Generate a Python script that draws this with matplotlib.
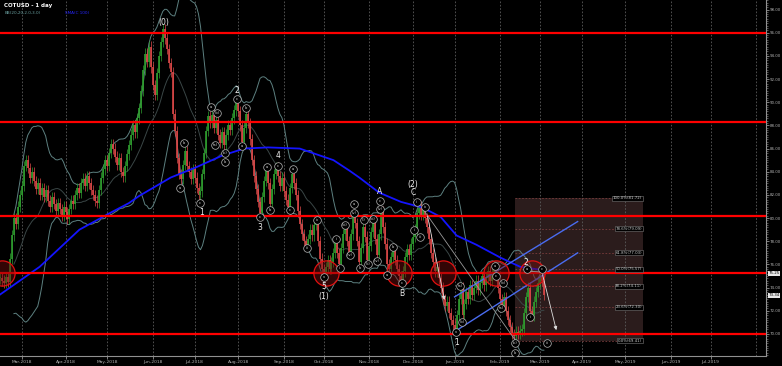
import matplotlib
matplotlib.use('Agg')
import matplotlib.pyplot as plt
import matplotlib.transforms as mtransforms
from matplotlib.patches import Rectangle
from matplotlib.ticker import MultipleLocator
import numpy as np
import pandas as pd

# COTUSD daily closes (first bar = 14 Feb 2018)
start_date = '2018-02-14'
closes = [
    74.8, 74.6, 74.4, 74.9, 74.5, 76.5, 78.5, 80.0, 79.5, 81.0, 82.0, 82.8, 84.5, 85.0, 84.3, 83.5, 84.0,
    83.2, 82.5, 83.0, 82.0, 82.6, 81.8, 82.4, 81.5, 81.0, 81.8, 81.2, 80.6, 81.3, 80.8,
    80.2, 81.0, 80.5, 79.9, 80.8,
    81.5, 81.2, 82.0, 82.6, 82.2, 83.0, 83.4, 82.8, 83.6, 83.0, 82.4, 82.0, 81.5,
    81.3, 82.4, 83.5, 84.2, 85.0, 84.5, 85.6, 86.4, 86.0, 85.3, 84.6, 85.2, 84.0, 83.6, 84.5, 85.5, 86.3, 87.2, 88.0, 87.4, 88.6,
    89.5, 91.0, 92.8, 94.2, 93.5, 94.8, 93.0, 91.5, 90.6, 92.5, 94.0, 95.2, 96.3, 95.5, 94.6, 93.4, 92.6, 89.0, 87.5, 85.2,
    83.8, 83.4, 84.6, 85.8, 84.5, 84.0, 83.4, 84.2, 83.5, 82.6, 82.0, 82.3, 83.8, 85.6, 87.5, 88.8, 88.2, 88.9, 87.8, 88.5,
    87.2, 86.5, 87.4, 86.3, 87.2, 88.0, 87.6, 88.6, 89.3, 90.0, 89.2, 88.0, 86.6, 87.8, 89.0, 88.2, 86.8, 85.0, 83.6, 82.5,
    81.4, 80.4, 81.8, 83.2, 84.2, 83.0, 81.2, 82.5, 83.8, 84.4, 83.6, 82.8, 83.5, 82.3, 81.6, 81.0, 82.6, 83.8, 83.0, 82.0,
    80.6, 79.5, 78.6, 78.0, 77.6, 78.2, 79.0, 78.5, 79.4, 79.6, 78.0, 76.5, 75.6, 75.2, 75.8, 76.4, 75.6, 76.2, 77.0, 78.0,
    77.0, 76.0, 77.4, 78.6, 79.2, 78.0, 77.0, 78.6, 80.2, 79.6, 78.0, 76.2, 77.4, 79.2, 78.4, 76.4, 77.6, 78.8, 79.6, 78.2,
    76.8, 78.6, 80.6, 79.2, 77.8, 76.0, 75.6, 76.6, 77.3, 76.4, 75.6, 75.0, 74.6, 75.4, 76.6, 77.3, 76.8, 77.8, 78.4, 79.0,
    80.4, 81.0, 80.3, 80.8, 80.0, 79.2, 78.2, 77.0, 76.2, 75.4, 75.8, 74.8, 74.0, 73.0, 72.4, 72.8, 71.8, 71.2, 70.8, 70.4,
    71.6, 73.0, 74.0, 71.6, 72.6, 73.6, 73.0, 74.2, 73.4, 74.0, 74.6, 73.8, 74.4, 75.0, 74.2, 74.8, 75.4, 74.6, 75.3, 75.8,
    75.0, 74.0, 73.0, 72.4, 73.2, 72.0, 71.2, 70.6, 70.0, 69.8, 70.2, 70.0, 70.3, 70.4, 71.8, 73.2, 74.0, 72.0, 71.6, 72.8,
    73.6, 74.4, 75.0, 74.6, 73.34,
]

# SMA(100) read at a few bars
sma_idx = [0, 20, 40, 55, 65, 70, 86, 99, 112, 123, 135, 151, 168, 176, 181, 191, 202, 213, 222, 230, 240, 252, 262, 274]
sma_val = [73.4, 75.8, 79.0, 80.4, 81.3, 81.9, 83.5, 84.4, 85.4, 86.0, 86.1, 86.0, 85.0, 84.1, 83.5, 82.2, 81.4, 80.9,
           80.1, 78.5, 77.7, 76.6, 75.8, 75.5]

# horizontal levels
sr_levels = [96.0, 88.3, 80.2, 75.25, 70.0]

# red circles on the 75.25 level
circle_idx = [1, 164, 201, 223, 250, 268]
circle_price = [75.25, 75.25, 75.25, 75.25, 75.25, 75.25]

# fibonacci retracement
fib_pct = [100.0, 78.6, 61.8, 50.0, 38.2, 23.6, 0.0]
fib_price = [81.72, 79.09, 77.03, 75.57, 74.11, 72.30, 69.41]
fib_from, fib_to = 259.4, 323.9

# rising channel
chan_idx = [229, 291]
chan_upper = [73.2, 79.7]
chan_lower = [70.2, 77.0]

# wave labels
big_text = ['(0)', '2', '1', '3', '4', '5', '(1)', 'A', 'B', '(2)', 'C', '1', '2']
big_idx = [82.6, 119.4, 101.3, 131, 140, 163.2, 163.2, 191.4, 202.5, 208, 208, 230.2, 265]
big_price = [96.9, 91.05, 80.5, 79.2, 85.4, 74.1, 73.2, 82.3, 73.5, 82.9, 82.2, 69.3, 76.2]

small_text = ['a', '(b)', 'c', 'b', '(a)', '(c)', 'b', 'a', 'b', 'a', 'c',
              'c', 'a', 'b', 'c', 'c', 'a', 'iii', 'iv', 'v',
              'i', 'ii', '(iii)', '(iv)', '(v)', 'a', 'b', '(i)', '(ii)', '(iii)', '(iv)', '(v)', 'c',
              'b', 'a', 'c', 'ii', 'iv', 'i', 'iii',
              'v', '(a)', '(b)', 'a', 'c', '(b)', '(a)', '(c)', 'b', 'i', 'iii', 'a', 'c']
small_idx = [106.3, 109.3, 119.4, 123.9, 108.3, 113.4, 113.4, 121.9, 92.7, 90.7, 100.8,
             131, 134.5, 136, 140, 146, 147.6, 154.7, 159.7, 163.2,
             169.3, 171.3, 173.8, 176.3, 178.3, 178.3, 181.4, 183.4, 185.4, 187.9, 189.9, 191.4, 191.4,
             198, 195, 202.5, 210, 214.1, 208.6, 211.6,
             229.7, 231.7, 232.7, 249.4, 249.9, 253.4, 252.4, 259.4, 259.4, 267, 275.6, 265.5, 273]
small_price = [89.6, 89.1, 90.3, 89.5, 86.3, 85.6, 84.8, 86.2, 86.5, 82.6, 81.3,
               80.1, 84.4, 80.7, 84.5, 80.7, 84.2, 77.4, 79.8, 74.9,
               78.2, 75.7, 79.4, 76.8, 80.4, 81.2, 75.7, 79.8, 76.0, 79.9, 76.3, 80.8, 81.5,
               77.5, 75.1, 74.4, 81.4, 81.0, 79.0, 78.4,
               70.2, 74.1, 71.0, 75.9, 75.0, 74.4, 72.2, 69.2, 68.4, 71.5, 69.2, 75.6, 75.6]

# wave connector lines / projections
line_idx = [(212.6, 259.4), (267, 273)]
line_price = [(80.9, 69.5), (75.4, 75.35)]
arrow_idx = [(215.1, 224.2), (273, 280.6)]
arrow_price = [(80.4, 72.7), (75.35, 70.1)]

# ---------------------------------------------------------------
W_PX, H_PX = 782, 366
fig = plt.figure(figsize=(W_PX / 100, H_PX / 100), dpi=100, facecolor='black')
ax = fig.add_axes([0, 10 / H_PX, 766 / W_PX, 356 / H_PX])
ax.set_facecolor('black')

n_axis = 386
dates = pd.bdate_range(start_date, periods=n_axis + 30)
ax.set_xlim(0, 766 / 1.985)
ax.set_ylim(68.10, 98.82)

# month grid
month_pos, month_lab = [], []
for i in range(1, len(dates)):
    if dates[i].month != dates[i - 1].month and i < 386:
        month_pos.append(i)
        month_lab.append(dates[i].strftime('%b-%Y'))
for p in month_pos:
    ax.axvline(p, color='#5c5c5c', lw=0.6, ls=(0, (2, 2)), zorder=1)
ax.set_xticks(month_pos[:-1])
ax.set_xticklabels(month_lab[:-1])

# fib box
ax.add_patch(Rectangle((fib_from, fib_price[-1]), fib_to - fib_from, fib_price[0] - fib_price[-1],
                       facecolor='#2b1c1c', edgecolor='none', zorder=0.5))
ax.hlines(fib_price, fib_from, fib_to, colors='#7a3c3c', linestyles=(0, (2, 2)), lw=0.6, zorder=1.5)
for pct, val in zip(fib_pct, fib_price):
    ax.text(fib_to - 0.5, val, f'{pct:.1f}%({val:.2f})', ha='right', va='center', fontsize=2.8,
            color='#cfcfcf', zorder=6,
            bbox=dict(boxstyle='square,pad=0.15', fc='black', ec='#777777', lw=0.4))

# bollinger bands
s = pd.Series(closes)
mid = s.rolling(20, min_periods=8).mean()
sd = s.rolling(20, min_periods=8).std()
x_all = np.arange(len(closes))
ax.plot(x_all, mid + 2 * sd, color='#5d8080', lw=0.7, zorder=2)
ax.plot(x_all, mid - 2 * sd, color='#5d8080', lw=0.7, zorder=2)
ax.plot(x_all, mid, color='#3a4646', lw=0.7, zorder=2)

# candles
opens = [closes[0]] + closes[:-1]
wick = 0.45
for i, (o, c) in enumerate(zip(opens, closes)):
    col = '#2f9e2f' if c >= o else '#dc4848'
    ax.vlines(i, min(o, c) - wick, max(o, c) + wick, color=col, lw=0.5, zorder=3)
    ax.vlines(i, min(o, c), max(o, c) + (0.08 if o == c else 0), color=col, lw=1.2, zorder=3)

# SMA 100
ax.plot(sma_idx, sma_val, color='#1414ff', lw=1.3, zorder=4)

# channel
ax.plot(chan_idx, chan_upper, color='#4a6cf0', lw=1.0, zorder=4)
ax.plot(chan_idx, chan_lower, color='#4a6cf0', lw=1.0, zorder=4)

# horizontal levels
for lv in sr_levels:
    ax.axhline(lv, color='#ff0000', lw=1.6, zorder=4.5)

# red circles
ax.scatter(circle_idx, circle_price, s=330, facecolor=(0.45, 0.05, 0.05, 0.45),
           edgecolor='#e01010', lw=0.9, zorder=4.6)

# connectors
for (x0, x1), (y0, y1) in zip(line_idx, line_price):
    ax.plot([x0, x1], [y0, y1], color='#9a9a9a', lw=0.6, zorder=5)
for (x0, x1), (y0, y1) in zip(arrow_idx, arrow_price):
    ax.annotate('', xy=(x1, y1), xytext=(x0, y0), zorder=5,
                arrowprops=dict(arrowstyle='-|>', color='#dddddd', lw=0.6, mutation_scale=5))

# wave labels
ax.scatter(small_idx, small_price, s=30, facecolor='black', edgecolor='#b8b8b8', lw=0.5, zorder=6)
for t, xi, yi in zip(small_text, small_idx, small_price):
    ax.text(xi, yi, t, ha='center', va='center', fontsize=2.6, color='#e0e0e0', zorder=7)
for t, xi, yi in zip(big_text, big_idx, big_price):
    ax.text(xi, yi, t, ha='center', va='center', fontsize=5.5, color='#f0f0f0', zorder=7)

# axes styling
for side in ['top', 'left']:
    ax.spines[side].set_visible(False)
ax.spines['right'].set_color('#909090')
ax.spines['bottom'].set_color('#909090')
ax.yaxis.tick_right()
ax.set_yticks(np.arange(70, 99, 2))
ax.set_yticklabels([f'{v:.2f}' for v in np.arange(70, 99, 2)])
ax.yaxis.set_minor_locator(MultipleLocator(0.2))
ax.tick_params(axis='y', which='major', colors='#b0b0b0', labelsize=2.9, length=2, width=0.5, pad=0.5)
ax.tick_params(axis='y', which='minor', colors='#909090', length=1.2, width=0.4)
ax.tick_params(axis='x', colors='#b0b0b0', labelsize=3.2, length=2, width=0.5, pad=1)

# last price / level tags
trans = mtransforms.blended_transform_factory(ax.transAxes, ax.transData)
ax.text(1.003, 75.25, '75.25', transform=trans, fontsize=2.9, color='black', va='center', ha='left',
        bbox=dict(boxstyle='square,pad=0.1', fc='#e8e8e8', ec='none'), zorder=8, clip_on=False)
ax.text(1.003, 73.34, '73.34', transform=trans, fontsize=2.9, color='black', va='center', ha='left',
        bbox=dict(boxstyle='square,pad=0.1', fc='#e8e8e8', ec='none'), zorder=8, clip_on=False)

# header
ax.text(4 / 766, 1 - 5 / 356, 'COTUSD - 1 day', transform=ax.transAxes, fontsize=4, color='white',
        fontweight='bold', va='center', ha='left', zorder=8)
ax.text(5 / 766, 1 - 12.5 / 356, 'BB(20,20,2.0,3.0)', transform=ax.transAxes, fontsize=3,
        color='#6aa0a0', va='center', ha='left', zorder=8)
ax.text(65 / 766, 1 - 12.5 / 356, 'SMA(C 100)', transform=ax.transAxes, fontsize=3,
        color='#2626ff', va='center', ha='left', zorder=8)

fig.savefig('out.png', dpi=100, facecolor='black')
